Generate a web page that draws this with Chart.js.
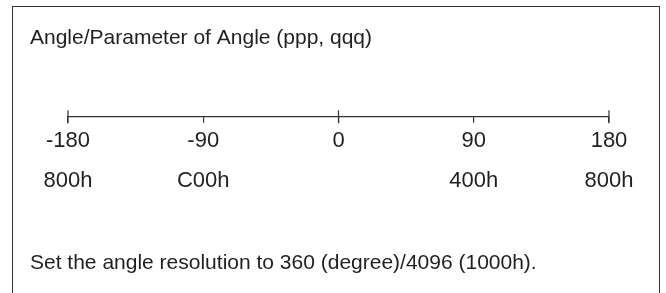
<!DOCTYPE html>
<html>
<head>
<meta charset="utf-8">
<script src="https://cdn.jsdelivr.net/npm/chart.js@4.4.1/dist/chart.umd.min.js"></script>
<style>
  html, body { margin: 0; padding: 0; background: #fff; width: 666px; height: 293px; overflow: hidden; }
  #frame { position: absolute; left: 12px; top: 6px; width: 648px; height: 330px; border: 1.6px solid #333; box-sizing: border-box; }
  #wrap { position: absolute; left: 0; top: 0; width: 666px; height: 293px; }
</style>
</head>
<body>
<div id="frame"></div>
<div id="wrap"><canvas id="c" width="666" height="293"></canvas></div>
<script>
const titleText = 'Angle/Parameter of Angle (ppp, qqq)';
const footText = 'Set the angle resolution to 360 (degree)/4096 (1000h).';
const angleTicks = [-180, -90, 0, 90, 180];
const hexLabels = ['800h', 'C00h', '', '400h', '800h'];
const majorTicks = [-180, 0, 180];

const ink = '#231f20';
const lineCol = '#333';
const fam = 'Liberation Sans, Arial, Helvetica, sans-serif';

new Chart(document.getElementById('c'), {
  type: 'scatter',
  data: {
    datasets: [{
      data: majorTicks.map(v => ({ x: v, y: 0 })),
      pointStyle: 'line',
      rotation: 90,
      radius: 6.5,
      hoverRadius: 6.5,
      borderColor: lineCol,
      borderWidth: 1.2,
      clip: false
    }]
  },
  options: {
    responsive: false,
    animation: false,
    events: [],
    layout: { padding: { left: 30, right: 57, top: 0, bottom: 0 } },
    plugins: {
      legend: { display: false },
      tooltip: { enabled: false },
      title: {
        display: true,
        text: titleText,
        align: 'start',
        color: ink,
        font: { family: fam, size: 21, weight: 'normal', lineHeight: 1.2 },
        padding: { top: 26, bottom: 10 }
      },
      subtitle: {
        display: true,
        position: 'bottom',
        text: footText,
        align: 'start',
        color: ink,
        font: { family: fam, size: 21, weight: 'normal', lineHeight: 1.2 },
        padding: { top: 52, bottom: 17 }
      }
    },
    scales: {
      x: {
        type: 'linear',
        min: -180,
        max: 180,
        afterBuildTicks: (scale) => { scale.ticks = angleTicks.map(v => ({ value: v })); },
        ticks: {
          autoSkip: false,
          maxRotation: 0,
          padding: -2,
          color: ink,
          font: { family: fam, size: 22, lineHeight: 40 / 22 },
          callback: (value, index) => [String(angleTicks[index]), hexLabels[index]]
        },
        grid: {
          display: true,
          drawOnChartArea: false,
          drawTicks: true,
          tickLength: 6,
          color: lineCol,
          lineWidth: 1.2
        },
        border: { display: true, color: lineCol, width: 1.2 }
      },
      y: {
        display: true,
        min: 0,
        max: 1,
        afterFit: (scale) => { scale.width = 38; },
        ticks: { display: false },
        grid: { display: false },
        border: { display: false }
      }
    }
  }
});
</script>
</body>
</html>
